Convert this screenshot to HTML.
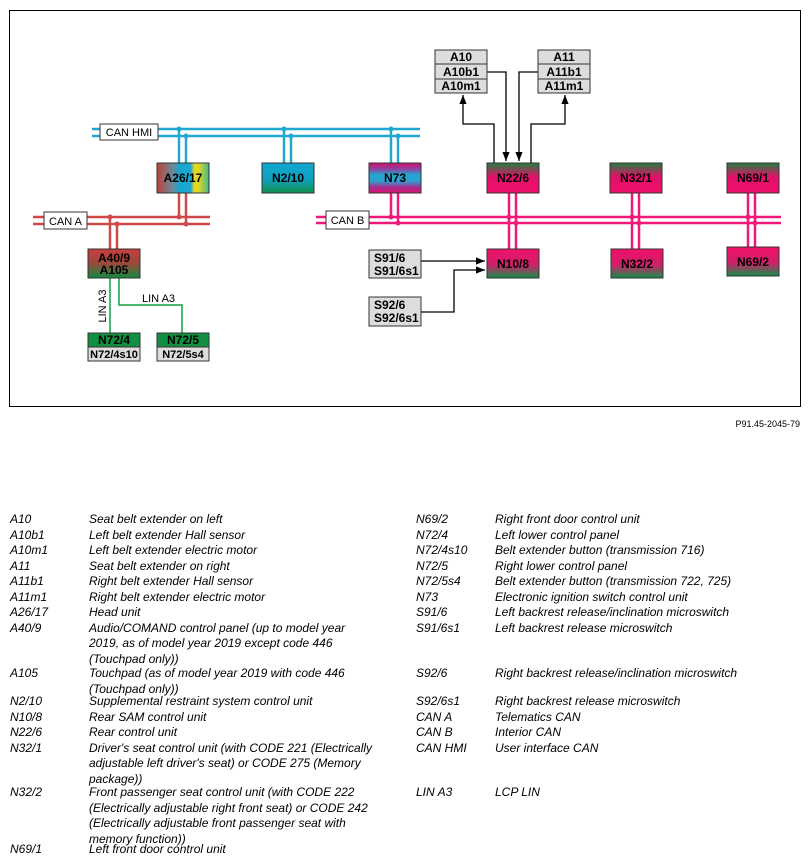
<!DOCTYPE html>
<html><head><meta charset="utf-8"><style>
body{margin:0;width:811px;height:863px;background:#fff;font-family:"Liberation Sans",sans-serif;position:relative;overflow:hidden}
.t{position:absolute;font-size:12px;font-style:italic;color:#000;line-height:15.5px}
</style></head><body>
<svg width="811" height="430" style="position:absolute;left:0;top:0" font-family="Liberation Sans" >
<defs>
<linearGradient id="a26" x1="0" x2="1"><stop offset="0" stop-color="#c0403a"/><stop offset=".3" stop-color="#6a8a9a"/><stop offset=".45" stop-color="#10a8d0"/><stop offset=".65" stop-color="#20a8d0"/><stop offset=".72" stop-color="#e8d820"/><stop offset=".8" stop-color="#e0d820"/><stop offset="1" stop-color="#40b890"/></linearGradient>
<linearGradient id="n210" x1="0" y1="0" x2="0" y2="1"><stop offset="0" stop-color="#10a8d0"/><stop offset=".55" stop-color="#10a0c0"/><stop offset="1" stop-color="#10904a"/></linearGradient>
<linearGradient id="n73" x1="0" y1="0" x2="0" y2="1"><stop offset="0" stop-color="#d0106a"/><stop offset=".2" stop-color="#9040a0"/><stop offset=".4" stop-color="#20a8d0"/><stop offset=".6" stop-color="#30a0d0"/><stop offset=".8" stop-color="#a03090"/><stop offset="1" stop-color="#e01070"/></linearGradient>
<linearGradient id="gm" x1="0" y1="0" x2="0" y2="1"><stop offset="0" stop-color="#208040"/><stop offset=".45" stop-color="#e0106a"/><stop offset="1" stop-color="#f0106a"/></linearGradient>
<linearGradient id="mg" x1="0" y1="0" x2="0" y2="1"><stop offset="0" stop-color="#f0106a"/><stop offset=".55" stop-color="#d0206a"/><stop offset="1" stop-color="#10904a"/></linearGradient>
<linearGradient id="rg" x1="0" y1="0" x2="0" y2="1"><stop offset="0" stop-color="#c83c40"/><stop offset=".5" stop-color="#9a4a3a"/><stop offset="1" stop-color="#108a40"/></linearGradient>
<marker id="ar" viewBox="0 0 10 10" refX="10" refY="5" markerWidth="7" markerHeight="7" orient="auto"><path d="M0,1L10,5L0,9z" fill="#000"/></marker>
</defs>
<rect x="9.5" y="10.5" width="791" height="396" fill="none" stroke="#000"/>
<g stroke="#20a8d0" stroke-width="2.5" fill="none">
<line x1="92" y1="129" x2="420" y2="129"/><line x1="92" y1="136" x2="420" y2="136"/>
<line x1="179" y1="129" x2="179" y2="163"/><line x1="186" y1="136" x2="186" y2="163"/>
<line x1="284" y1="129" x2="284" y2="163"/><line x1="291" y1="136" x2="291" y2="163"/>
<line x1="391" y1="129" x2="391" y2="163"/><line x1="398" y1="136" x2="398" y2="163"/>
</g>
<g fill="#20a8d0"><circle cx="179" cy="129" r="2.5"/><circle cx="186" cy="136" r="2.5"/><circle cx="284" cy="129" r="2.5"/><circle cx="291" cy="136" r="2.5"/><circle cx="391" cy="129" r="2.5"/><circle cx="398" cy="136" r="2.5"/></g>
<g stroke="#d04848" stroke-width="2.5" fill="none">
<line x1="33" y1="217" x2="210" y2="217"/><line x1="33" y1="224" x2="210" y2="224"/>
<line x1="179" y1="193" x2="179" y2="217"/><line x1="186" y1="193" x2="186" y2="224"/>
<line x1="110" y1="217" x2="110" y2="249"/><line x1="117" y1="224" x2="117" y2="249"/>
</g>
<g fill="#d04848"><circle cx="179" cy="217" r="2.5"/><circle cx="186" cy="224" r="2.5"/><circle cx="110" cy="217" r="2.5"/><circle cx="117" cy="224" r="2.5"/></g>
<g stroke="#f01878" stroke-width="2.5" fill="none">
<line x1="316" y1="217" x2="781" y2="217"/><line x1="316" y1="223" x2="781" y2="223"/>
<line x1="391" y1="193" x2="391" y2="217"/><line x1="398" y1="193" x2="398" y2="223"/>
<line x1="509" y1="193" x2="509" y2="249"/><line x1="516" y1="193" x2="516" y2="249"/>
<line x1="632" y1="193" x2="632" y2="249"/><line x1="639" y1="193" x2="639" y2="249"/>
<line x1="748" y1="193" x2="748" y2="247"/><line x1="755" y1="193" x2="755" y2="247"/>
</g>
<g fill="#f01878"><circle cx="391" cy="217" r="2.5"/><circle cx="398" cy="223" r="2.5"/><circle cx="509" cy="217" r="2.5"/><circle cx="516" cy="223" r="2.5"/><circle cx="632" cy="217" r="2.5"/><circle cx="639" cy="223" r="2.5"/><circle cx="748" cy="217" r="2.5"/><circle cx="755" cy="223" r="2.5"/></g>
<g stroke="#10a040" stroke-width="1.5" fill="none"><polyline points="110,278 110,333"/><polyline points="119,278 119,305 182,305 182,333"/></g>
<g stroke="#000" stroke-width="1.3" fill="none">
<polyline points="494,163 494,124 463,124 463,95" marker-end="url(#ar)"/>
<polyline points="487,72 506,72 506,161" marker-end="url(#ar)"/>
<polyline points="538,72 519,72 519,161" marker-end="url(#ar)"/>
<polyline points="531,163 531,124 565,124 565,95" marker-end="url(#ar)"/>
<polyline points="421,261 485,261" marker-end="url(#ar)"/>
<polyline points="421,312 454,312 454,270 485,270" marker-end="url(#ar)"/>
</g>
<g stroke="#333" stroke-width="1">
<rect x="157" y="163" width="52" height="30" fill="url(#a26)"/>
<rect x="262" y="163" width="52" height="30" fill="url(#n210)"/>
<rect x="369" y="163" width="52" height="30" fill="url(#n73)"/>
<rect x="487" y="163" width="52" height="30" fill="url(#gm)"/>
<rect x="610" y="163" width="52" height="30" fill="url(#gm)"/>
<rect x="727" y="163" width="52" height="30" fill="url(#gm)"/>
<rect x="487" y="249" width="52" height="29" fill="url(#mg)"/>
<rect x="611" y="249" width="52" height="29" fill="url(#mg)"/>
<rect x="727" y="247" width="52" height="29" fill="url(#mg)"/>
<rect x="88" y="249" width="52" height="29" fill="url(#rg)"/>
<rect x="88" y="333" width="52" height="14" fill="#109040"/><rect x="88" y="347" width="52" height="14" fill="#ddd"/>
<rect x="157" y="333" width="52" height="14" fill="#109040"/><rect x="157" y="347" width="52" height="14" fill="#ddd"/>
<rect x="435" y="50" width="52" height="14" fill="#ddd"/><rect x="435" y="64" width="52" height="15" fill="#ddd"/><rect x="435" y="79" width="52" height="14" fill="#ddd"/>
<rect x="538" y="50" width="52" height="14" fill="#ddd"/><rect x="538" y="64" width="52" height="15" fill="#ddd"/><rect x="538" y="79" width="52" height="14" fill="#ddd"/>
<rect x="369" y="250" width="52" height="28" fill="#ddd"/><rect x="369" y="297" width="52" height="29" fill="#ddd"/>
<rect x="100" y="124" width="58" height="16" fill="#fff"/>
<rect x="44" y="212" width="43" height="17" fill="#fff"/>
<rect x="326" y="211" width="43" height="18" fill="#fff"/>
</g>
<g font-size="11" text-anchor="middle">
<text x="129" y="136">CAN HMI</text><text x="65.5" y="225">CAN A</text><text x="347.5" y="224">CAN B</text>
<text x="142" y="302" text-anchor="start" font-size="11">LIN A3</text>
<text transform="translate(106,306) rotate(-90)" font-size="11">LIN A3</text>
</g>
<g font-size="12" font-weight="bold" text-anchor="middle">
<text x="183" y="182">A26/17</text><text x="288" y="182">N2/10</text><text x="395" y="182">N73</text>
<text x="513" y="182">N22/6</text><text x="636" y="182">N32/1</text><text x="753" y="182">N69/1</text>
<text x="513" y="268">N10/8</text><text x="637" y="268">N32/2</text><text x="753" y="266">N69/2</text>
<text x="114" y="262">A40/9</text><text x="114" y="274">A105</text>
<text x="114" y="344">N72/4</text><text x="114" y="358" font-size="11">N72/4s10</text>
<text x="183" y="344">N72/5</text><text x="183" y="358" font-size="11">N72/5s4</text>
<text x="461" y="61">A10</text><text x="461" y="76">A10b1</text><text x="461" y="90">A10m1</text>
<text x="564" y="61">A11</text><text x="564" y="76">A11b1</text><text x="564" y="90">A11m1</text>
<text x="374" y="262" text-anchor="start">S91/6</text><text x="374" y="275" text-anchor="start">S91/6s1</text>
<text x="374" y="309" text-anchor="start">S92/6</text><text x="374" y="322" text-anchor="start">S92/6s1</text>
</g>
<text x="800" y="427" font-size="9" text-anchor="end">P91.45-2045-79</text>
</svg>
<div class="t" style="left:10px;top:512px">A10<br>A10b1<br>A10m1<br>A11<br>A11b1<br>A11m1<br>A26/17<br>A40/9</div>
<div class="t" style="left:89px;top:512px">Seat belt extender on left<br>Left belt extender Hall sensor<br>Left belt extender electric motor<br>Seat belt extender on right<br>Right belt extender Hall sensor<br>Right belt extender electric motor<br>Head unit<br>Audio/COMAND control panel (up to model year<br>2019, as of model year 2019 except code 446<br>(Touchpad only))</div>
<div class="t" style="left:10px;top:666px">A105</div>
<div class="t" style="left:89px;top:666px">Touchpad (as of model year 2019 with code 446<br>(Touchpad only))</div>
<div class="t" style="left:10px;top:694px">N2/10<br>N10/8<br>N22/6<br>N32/1</div>
<div class="t" style="left:89px;top:694px">Supplemental restraint system control unit<br>Rear SAM control unit<br>Rear control unit<br>Driver's seat control unit (with CODE 221 (Electrically<br>adjustable left driver's seat) or CODE 275 (Memory<br>package))</div>
<div class="t" style="left:10px;top:785px">N32/2</div>
<div class="t" style="left:89px;top:785px">Front passenger seat control unit (with CODE 222<br>(Electrically adjustable right front seat) or CODE 242<br>(Electrically adjustable front passenger seat with<br>memory function))</div>
<div class="t" style="left:10px;top:842px">N69/1</div>
<div class="t" style="left:89px;top:842px">Left front door control unit</div>
<div class="t" style="left:416px;top:512px">N69/2<br>N72/4<br>N72/4s10<br>N72/5<br>N72/5s4<br>N73<br>S91/6<br>S91/6s1</div>
<div class="t" style="left:495px;top:512px">Right front door control unit<br>Left lower control panel<br>Belt extender button (transmission 716)<br>Right lower control panel<br>Belt extender button (transmission 722, 725)<br>Electronic ignition switch control unit<br>Left backrest release/inclination microswitch<br>Left backrest release microswitch</div>
<div class="t" style="left:416px;top:666px">S92/6</div>
<div class="t" style="left:495px;top:666px">Right backrest release/inclination microswitch</div>
<div class="t" style="left:416px;top:694px">S92/6s1<br>CAN A<br>CAN B<br>CAN HMI</div>
<div class="t" style="left:495px;top:694px">Right backrest release microswitch<br>Telematics CAN<br>Interior CAN<br>User interface CAN</div>
<div class="t" style="left:416px;top:785px">LIN A3</div>
<div class="t" style="left:495px;top:785px">LCP LIN</div>
</body></html>
